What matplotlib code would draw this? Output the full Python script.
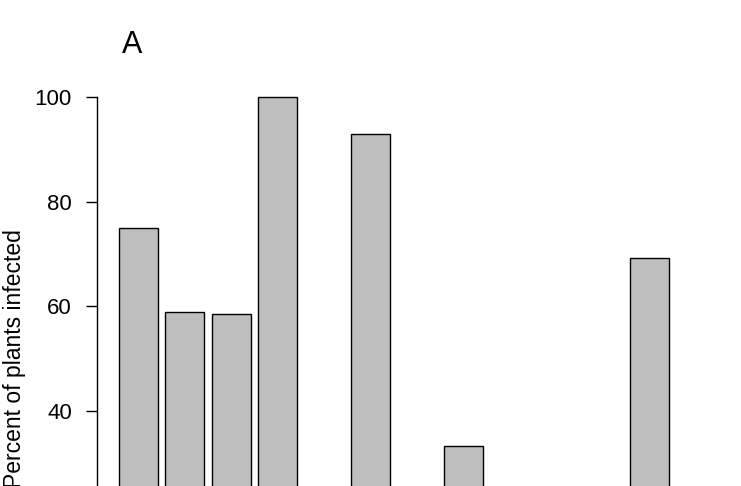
import matplotlib
matplotlib.use("Agg")
import matplotlib.pyplot as plt
import numpy as np

plt.rcParams['font.family'] = ['Liberation Sans', 'DejaVu Sans']

# percent infected per group (groups 5, 7, 9-11 fall below the visible crop)
infected = [75.0, 58.9, 58.5, 100.0, 20.0, 92.9, 8.0, 33.3, 0.0, 14.0, 0.0, 69.2]
yticks = [0, 20, 40, 60, 80, 100]

fig = plt.figure(figsize=(7.41, 4.86), dpi=100)
# the plot region runs past the bottom of the picture (cropped like the reference)
ax = fig.add_axes([97 / 741, 1 - 641.4 / 486, (691 - 97) / 741, (641.4 - 76) / 486])

n = len(infected)
pos = 0.7 + 1.2 * np.arange(n)
ax.bar(pos, infected, width=1.0, color='#bebebe', edgecolor='black', linewidth=1.0)

ax.set_xlim(0.2 - 0.04 * (1.2 * n - 0.2), 1.2 * n + 0.04 * (1.2 * n - 0.2))
ax.set_ylim(-4, 104)
ax.set_yticks(yticks)
ax.set_yticklabels([str(t) for t in yticks])
ax.set_xticks([])
for s in ['top', 'right', 'bottom']:
    ax.spines[s].set_visible(False)
ax.spines['left'].set_bounds(0, 100)
ax.spines['left'].set_linewidth(1.0)
ax.tick_params(axis='y', length=8, width=1.0, labelsize=16, pad=10)

ax.set_ylabel('Percent of plants infected', fontsize=16.5)
ax.yaxis.set_label_coords(-0.119, 0.5)

fig.text(132 / 741, 1 - 45 / 486, 'A', fontsize=22, ha='center', va='center')

fig.savefig('out.png', dpi=100)
